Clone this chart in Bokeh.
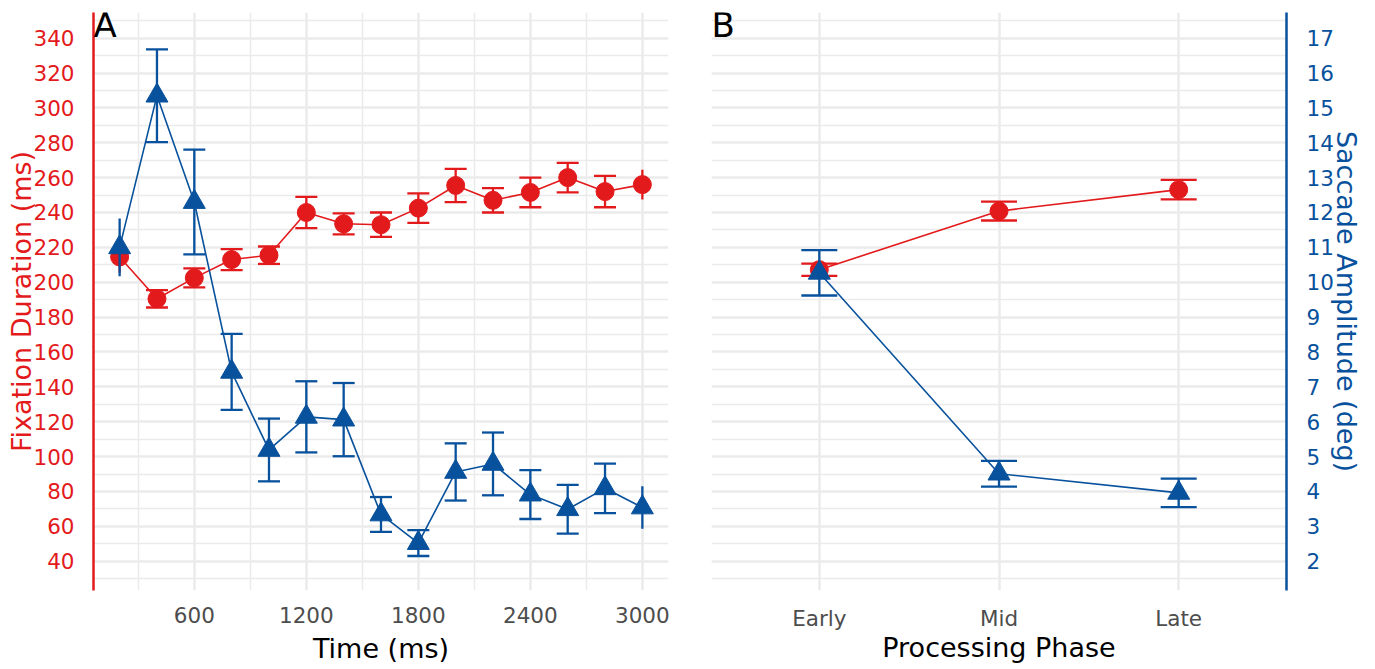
from bokeh.plotting import figure
from bokeh.models import Range1d, LinearAxis, FixedTicker, Label, Grid
from bokeh.layouts import row
from bokeh.embed import file_html
from bokeh.resources import INLINE

# ---------------- data ----------------
time_ms = [200, 400, 600, 800, 1000, 1200, 1400, 1600, 1800, 2000, 2200, 2400, 2600, 2800, 3000]
fix_mean = [214.5, 190.5, 202.5, 213.0, 215.5, 240.0, 233.5, 233.0, 242.5, 255.5, 247.0, 251.5, 260.0, 252.0, 256.0]
fix_se = [9.0, 5.0, 5.5, 6.0, 5.0, 9.0, 6.0, 7.0, 8.5, 9.5, 7.0, 8.5, 8.5, 9.0, 8.5]
sac_mean = [11.0, 15.35, 12.3, 7.43, 5.19, 6.14, 6.06, 3.34, 2.52, 4.56, 4.79, 3.91, 3.49, 4.09, 3.54]
sac_se = [0.83, 1.33, 1.5, 1.09, 0.9, 1.02, 1.05, 0.5, 0.37, 0.82, 0.9, 0.7, 0.7, 0.71, 0.61]

phases = ["Early", "Mid", "Late"]
phase_fix_mean = [207.2, 240.8, 253.1]
phase_fix_se = [3.5, 5.4, 5.6]
phase_sac_mean = [10.27, 4.51, 3.96]
phase_sac_se = [0.65, 0.37, 0.41]

time_ticks = [600, 1200, 1800, 2400, 3000]
time_tick_labels = ["600", "1200", "1800", "2400", "3000"]
time_minor = [300, 900, 1500, 2100, 2700]
fix_ticks = [40, 60, 80, 100, 120, 140, 160, 180, 200, 220, 240, 260, 280, 300, 320, 340]
fix_tick_labels = ["40", "60", "80", "100", "120", "140", "160", "180", "200", "220",
                   "240", "260", "280", "300", "320", "340"]
fix_minor = [30, 50, 70, 90, 110, 130, 150, 170, 190, 210, 230, 250, 270, 290, 310, 330, 350]
sac_ticks = [2, 3, 4, 5, 6, 7, 8, 9, 10, 11, 12, 13, 14, 15, 16, 17]
sac_tick_labels = ["2", "3", "4", "5", "6", "7", "8", "9", "10", "11", "12", "13", "14", "15", "16", "17"]

# ---------------- style ----------------
FONT = "DejaVu Sans"
RED = "#E31A1C"
BLUE = "#08519C"
GRID = "#EBEBEB"
TICKC = "#4D4D4D"
MS_PER_DEG = 20.0
Y_MS = (23.2, 354.7)
X_TIME = (60, 3140)
X_PHASE = (0.4, 3.6)
TICK_FS = "21.5px"
TITLE_FS = "27px"


def make_fig(x_rng, left, right):
    p = figure(x_range=Range1d(*x_rng), y_range=Range1d(*Y_MS),
               frame_width=575, frame_height=578,
               min_border_left=left, min_border_right=right,
               min_border_top=12, min_border_bottom=78,
               x_axis_type=None, y_axis_type=None,
               output_backend="svg", toolbar_location=None)
    p.extra_y_ranges = {"sac": Range1d(Y_MS[0] / MS_PER_DEG, Y_MS[1] / MS_PER_DEG)}
    p.outline_line_color = None
    p.background_fill_color = "white"
    p.border_fill_color = "white"
    return p


def style_axis(ax, color, title_color):
    ax.major_tick_line_color = None
    ax.minor_tick_line_color = None
    ax.major_label_text_font = FONT
    ax.major_label_text_font_size = TICK_FS
    ax.major_label_text_color = color
    ax.axis_label_text_font = FONT
    ax.axis_label_text_font_size = TITLE_FS
    ax.axis_label_text_font_style = "normal"
    ax.axis_label_text_color = title_color


def add_grid(p, dim, ticks, minor):
    g = Grid(dimension=dim, ticker=FixedTicker(ticks=ticks, minor_ticks=minor),
             grid_line_color=GRID, grid_line_width=2.5,
             minor_grid_line_color=GRID if minor else None, minor_grid_line_width=1.5)
    p.add_layout(g)


def add_series(p, xs, means, ses, color, marker, msize, cap_px, caps_mask, yname=None):
    kw = {} if yname is None else {"y_range_name": yname}
    lo = [m - s for m, s in zip(means, ses)]
    hi = [m + s for m, s in zip(means, ses)]
    p.line(xs, means, line_color=color, line_width=1.6, **kw)
    p.segment(xs, lo, xs, hi, line_color=color, line_width=2.3, **kw)
    cx = [x for x, c in zip(xs, caps_mask) if c]
    clo = [v for v, c in zip(lo, caps_mask) if c]
    chi = [v for v, c in zip(hi, caps_mask) if c]
    p.scatter(cx, clo, marker="dash", size=cap_px, line_color=color, line_width=2.3, **kw)
    p.scatter(cx, chi, marker="dash", size=cap_px, line_color=color, line_width=2.3, **kw)
    p.scatter(xs, means, marker=marker, size=msize, fill_color=color, line_color=color, **kw)


# ---------------- panel A ----------------
pa = make_fig(X_TIME, 93, 20)
add_grid(pa, 0, time_ticks, time_minor)
add_grid(pa, 1, fix_ticks, fix_minor)

xa = LinearAxis(ticker=FixedTicker(ticks=time_ticks), axis_label="Time (ms)",
                major_label_overrides=dict(zip(time_ticks, time_tick_labels)))
style_axis(xa, TICKC, "black")
xa.axis_line_color = None
xa.major_label_standoff = 10
xa.axis_label_standoff = 7
pa.add_layout(xa, "below")

ya = LinearAxis(ticker=FixedTicker(ticks=fix_ticks), axis_label="Fixation Duration (ms)",
                major_label_overrides=dict(zip(fix_ticks, fix_tick_labels)))
style_axis(ya, RED, RED)
ya.axis_line_color = RED
ya.axis_line_width = 2.5
ya.major_label_standoff = 13
ya.axis_label_standoff = -7
pa.add_layout(ya, "left")

mask_a = [False] + [True] * (len(time_ms) - 2) + [False]
add_series(pa, time_ms, fix_mean, fix_se, RED, "circle", 18, 22, mask_a)
add_series(pa, time_ms, sac_mean, sac_se, BLUE, "triangle", 22, 22, mask_a, yname="sac")

pa.add_layout(Label(x=X_TIME[0], y=Y_MS[1], text="A", text_align="left", text_baseline="top",
                    x_offset=0, y_offset=8, text_font=FONT, text_font_size="34px", text_color="black"))

# ---------------- panel B ----------------
pb = make_fig(X_PHASE, 23, 80)
phase_pos = [i + 1 for i in range(len(phases))]
add_grid(pb, 0, phase_pos, [])
add_grid(pb, 1, fix_ticks, fix_minor)

xb = LinearAxis(ticker=FixedTicker(ticks=phase_pos), axis_label="Processing Phase",
                major_label_overrides=dict(zip(phase_pos, phases)))
style_axis(xb, TICKC, "black")
xb.axis_line_color = None
xb.major_label_standoff = 9
xb.axis_label_standoff = -2
pb.add_layout(xb, "below")

yb = LinearAxis(y_range_name="sac", ticker=FixedTicker(ticks=sac_ticks),
                axis_label="Saccade Amplitude (deg)",
                major_label_overrides=dict(zip(sac_ticks, sac_tick_labels)))
style_axis(yb, BLUE, BLUE)
yb.axis_line_color = BLUE
yb.axis_line_width = 2.5
yb.major_label_standoff = 14
yb.axis_label_standoff = -6
pb.add_layout(yb, "right")

mask_b = [True] * len(phases)
add_series(pb, phase_pos, phase_fix_mean, phase_fix_se, RED, "circle", 18, 36, mask_b)
add_series(pb, phase_pos, phase_sac_mean, phase_sac_se, BLUE, "triangle", 22, 36, mask_b, yname="sac")

pb.add_layout(Label(x=X_PHASE[0], y=Y_MS[1], text="B", text_align="left", text_baseline="top",
                    x_offset=0, y_offset=8, text_font=FONT, text_font_size="34px", text_color="black"))

layout = row(pa, pb)
open("out.html", "w").write(file_html(layout, INLINE))
